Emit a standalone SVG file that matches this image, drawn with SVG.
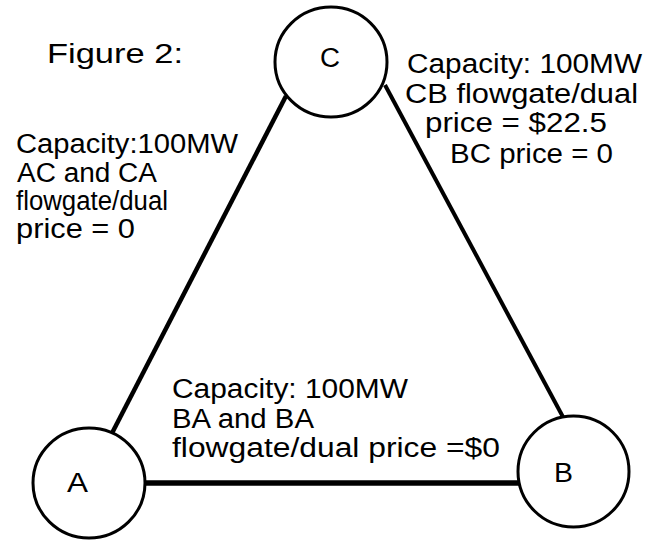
<svg xmlns="http://www.w3.org/2000/svg" width="658" height="540" viewBox="0 0 658 540">
<style>
text{font-family:"Liberation Sans","DejaVu Sans",sans-serif;font-size:27px;fill:#000}
.node circle{fill:#fff;stroke:#000;stroke-width:3}
.edge{stroke:#000;stroke-linecap:butt}
</style>
<rect width="658" height="540" fill="#fff"/>
<g id="connectors">
<line class="edge" x1="110" y1="437" x2="286" y2="96" stroke-width="4.5"/>
<line class="edge" x1="385" y1="85" x2="563" y2="417" stroke-width="4"/>
<line class="edge" x1="145" y1="483" x2="520" y2="483" stroke-width="5.5"/>
</g>
<g id="node-C" class="node">
<ellipse cx="331" cy="62" rx="56" ry="55" fill="#fff" stroke="#000" stroke-width="3"/>
<text x="320" y="67" textLength="20" lengthAdjust="spacingAndGlyphs">C</text>
</g>
<g id="node-A" class="node">
<ellipse cx="89" cy="483" rx="56" ry="55" fill="#fff" stroke="#000" stroke-width="3"/>
<text x="67" y="492" textLength="21" lengthAdjust="spacingAndGlyphs">A</text>
</g>
<g id="node-B" class="node">
<ellipse cx="573.5" cy="471.5" rx="55.5" ry="55.5" fill="#fff" stroke="#000" stroke-width="3"/>
<text x="554" y="482" textLength="19" lengthAdjust="spacingAndGlyphs">B</text>
</g>
<g id="title">
<text x="47" y="63" font-size="29" textLength="136" lengthAdjust="spacingAndGlyphs">Figure 2:</text>
</g>
<g id="label-AC">
<text x="16" y="153" textLength="222" lengthAdjust="spacingAndGlyphs">Capacity:100MW</text>
<text x="17" y="182" textLength="140" lengthAdjust="spacingAndGlyphs">AC and CA</text>
<text x="16" y="210" textLength="152" lengthAdjust="spacingAndGlyphs">flowgate/dual</text>
<text x="16" y="238" textLength="119" lengthAdjust="spacingAndGlyphs">price = 0</text>
</g>
<g id="label-CB">
<text x="407" y="73" textLength="235" lengthAdjust="spacingAndGlyphs">Capacity: 100MW</text>
<text x="405" y="103" textLength="233" lengthAdjust="spacingAndGlyphs">CB flowgate/dual</text>
<text x="425" y="132" textLength="182" lengthAdjust="spacingAndGlyphs">price = $22.5</text>
<text x="450" y="163" textLength="163" lengthAdjust="spacingAndGlyphs">BC price = 0</text>
</g>
<g id="label-AB">
<text x="172" y="398" textLength="236" lengthAdjust="spacingAndGlyphs">Capacity: 100MW</text>
<text x="172" y="428" textLength="142" lengthAdjust="spacingAndGlyphs">BA and BA</text>
<text x="172" y="457" textLength="328" lengthAdjust="spacingAndGlyphs">flowgate/dual price =$0</text>
</g>
</svg>
